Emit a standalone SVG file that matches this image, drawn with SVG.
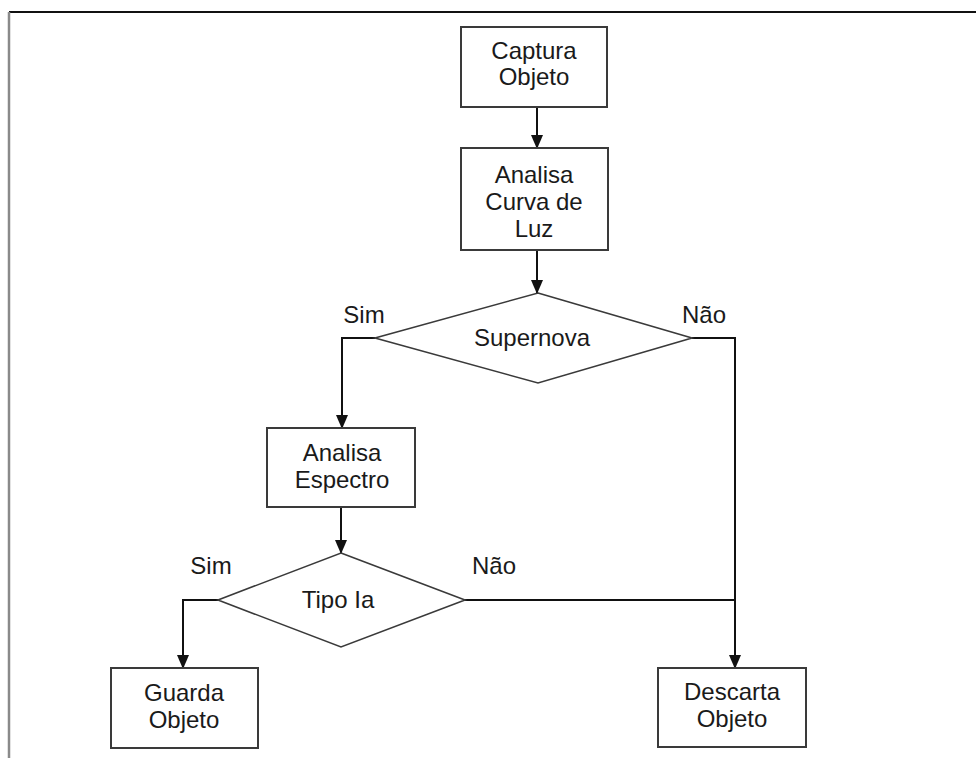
<svg xmlns="http://www.w3.org/2000/svg" width="976" height="758" viewBox="0 0 976 758">
  <style>
    .box { fill: #ffffff; stroke: #3a3a3a; stroke-width: 2; }
    .dec { fill: #ffffff; stroke: #3a3a3a; stroke-width: 1.6; }
    .lbl { font-family: "Liberation Sans", Arial, sans-serif; font-size: 24px; fill: #1a1a1a; text-anchor: middle; }
    .edge { fill: none; stroke: #111111; stroke-width: 2; }
    .arrow { fill: none; stroke: #111111; stroke-width: 2; marker-end: url(#head); }
  </style>
  <defs>
    <marker id="head" markerWidth="14" markerHeight="12" refX="13" refY="6" orient="auto" markerUnits="userSpaceOnUse">
      <path d="M0,0 L14,6 L0,12 Z" fill="#111111"/>
    </marker>
  </defs>

  <rect width="976" height="758" fill="#ffffff"/>

  <!-- page frame -->
  <g id="frame">
    <line x1="9" y1="12" x2="976" y2="12" stroke="#111111" stroke-width="2"/>
    <line x1="9" y1="12" x2="9" y2="758" stroke="#8a8a8a" stroke-width="2.5"/>
  </g>

  <!-- connectors -->
  <g id="connectors">
    <line class="arrow" x1="537" y1="107" x2="537" y2="148"/>
    <line class="arrow" x1="537" y1="250" x2="537" y2="293"/>
    <polyline class="arrow" points="375,338 342,338 342,428"/>
    <polyline class="arrow" points="692,338 735,338 735,668"/>
    <line class="arrow" x1="341" y1="507" x2="341" y2="553"/>
    <polyline class="arrow" points="218,600 183,600 183,668"/>
    <polyline class="edge" points="465,600 735,600"/>
    <text class="lbl" x="364" y="323">Sim</text>
    <text class="lbl" x="704" y="323">Não</text>
    <text class="lbl" x="211" y="574">Sim</text>
    <text class="lbl" x="494" y="574">Não</text>
  </g>

  <g id="captura">
    <rect class="box" x="461" y="27" width="146" height="80"/>
    <text class="lbl" x="534" y="59">Captura</text>
    <text class="lbl" x="534" y="85">Objeto</text>
  </g>

  <g id="curva">
    <rect class="box" x="461" y="148" width="147" height="102"/>
    <text class="lbl" x="534" y="183">Analisa</text>
    <text class="lbl" x="534" y="210">Curva de</text>
    <text class="lbl" x="534" y="237">Luz</text>
  </g>

  <g id="supernova">
    <polygon class="dec" points="538,293 692,338 538,383 375,338"/>
    <text class="lbl" x="532" y="346">Supernova</text>
  </g>

  <g id="espectro">
    <rect class="box" x="267" y="428" width="148" height="79"/>
    <text class="lbl" x="342" y="461">Analisa</text>
    <text class="lbl" x="342" y="488">Espectro</text>
  </g>

  <g id="tipoia">
    <polygon class="dec" points="341,553 465,600 341,647 218,600"/>
    <text class="lbl" x="338" y="608">Tipo Ia</text>
  </g>

  <g id="guarda">
    <rect class="box" x="111" y="668" width="147" height="80"/>
    <text class="lbl" x="184" y="701">Guarda</text>
    <text class="lbl" x="184" y="728">Objeto</text>
  </g>

  <g id="descarta">
    <rect class="box" x="658" y="668" width="148" height="79"/>
    <text class="lbl" x="732" y="700">Descarta</text>
    <text class="lbl" x="732" y="727">Objeto</text>
  </g>
</svg>
